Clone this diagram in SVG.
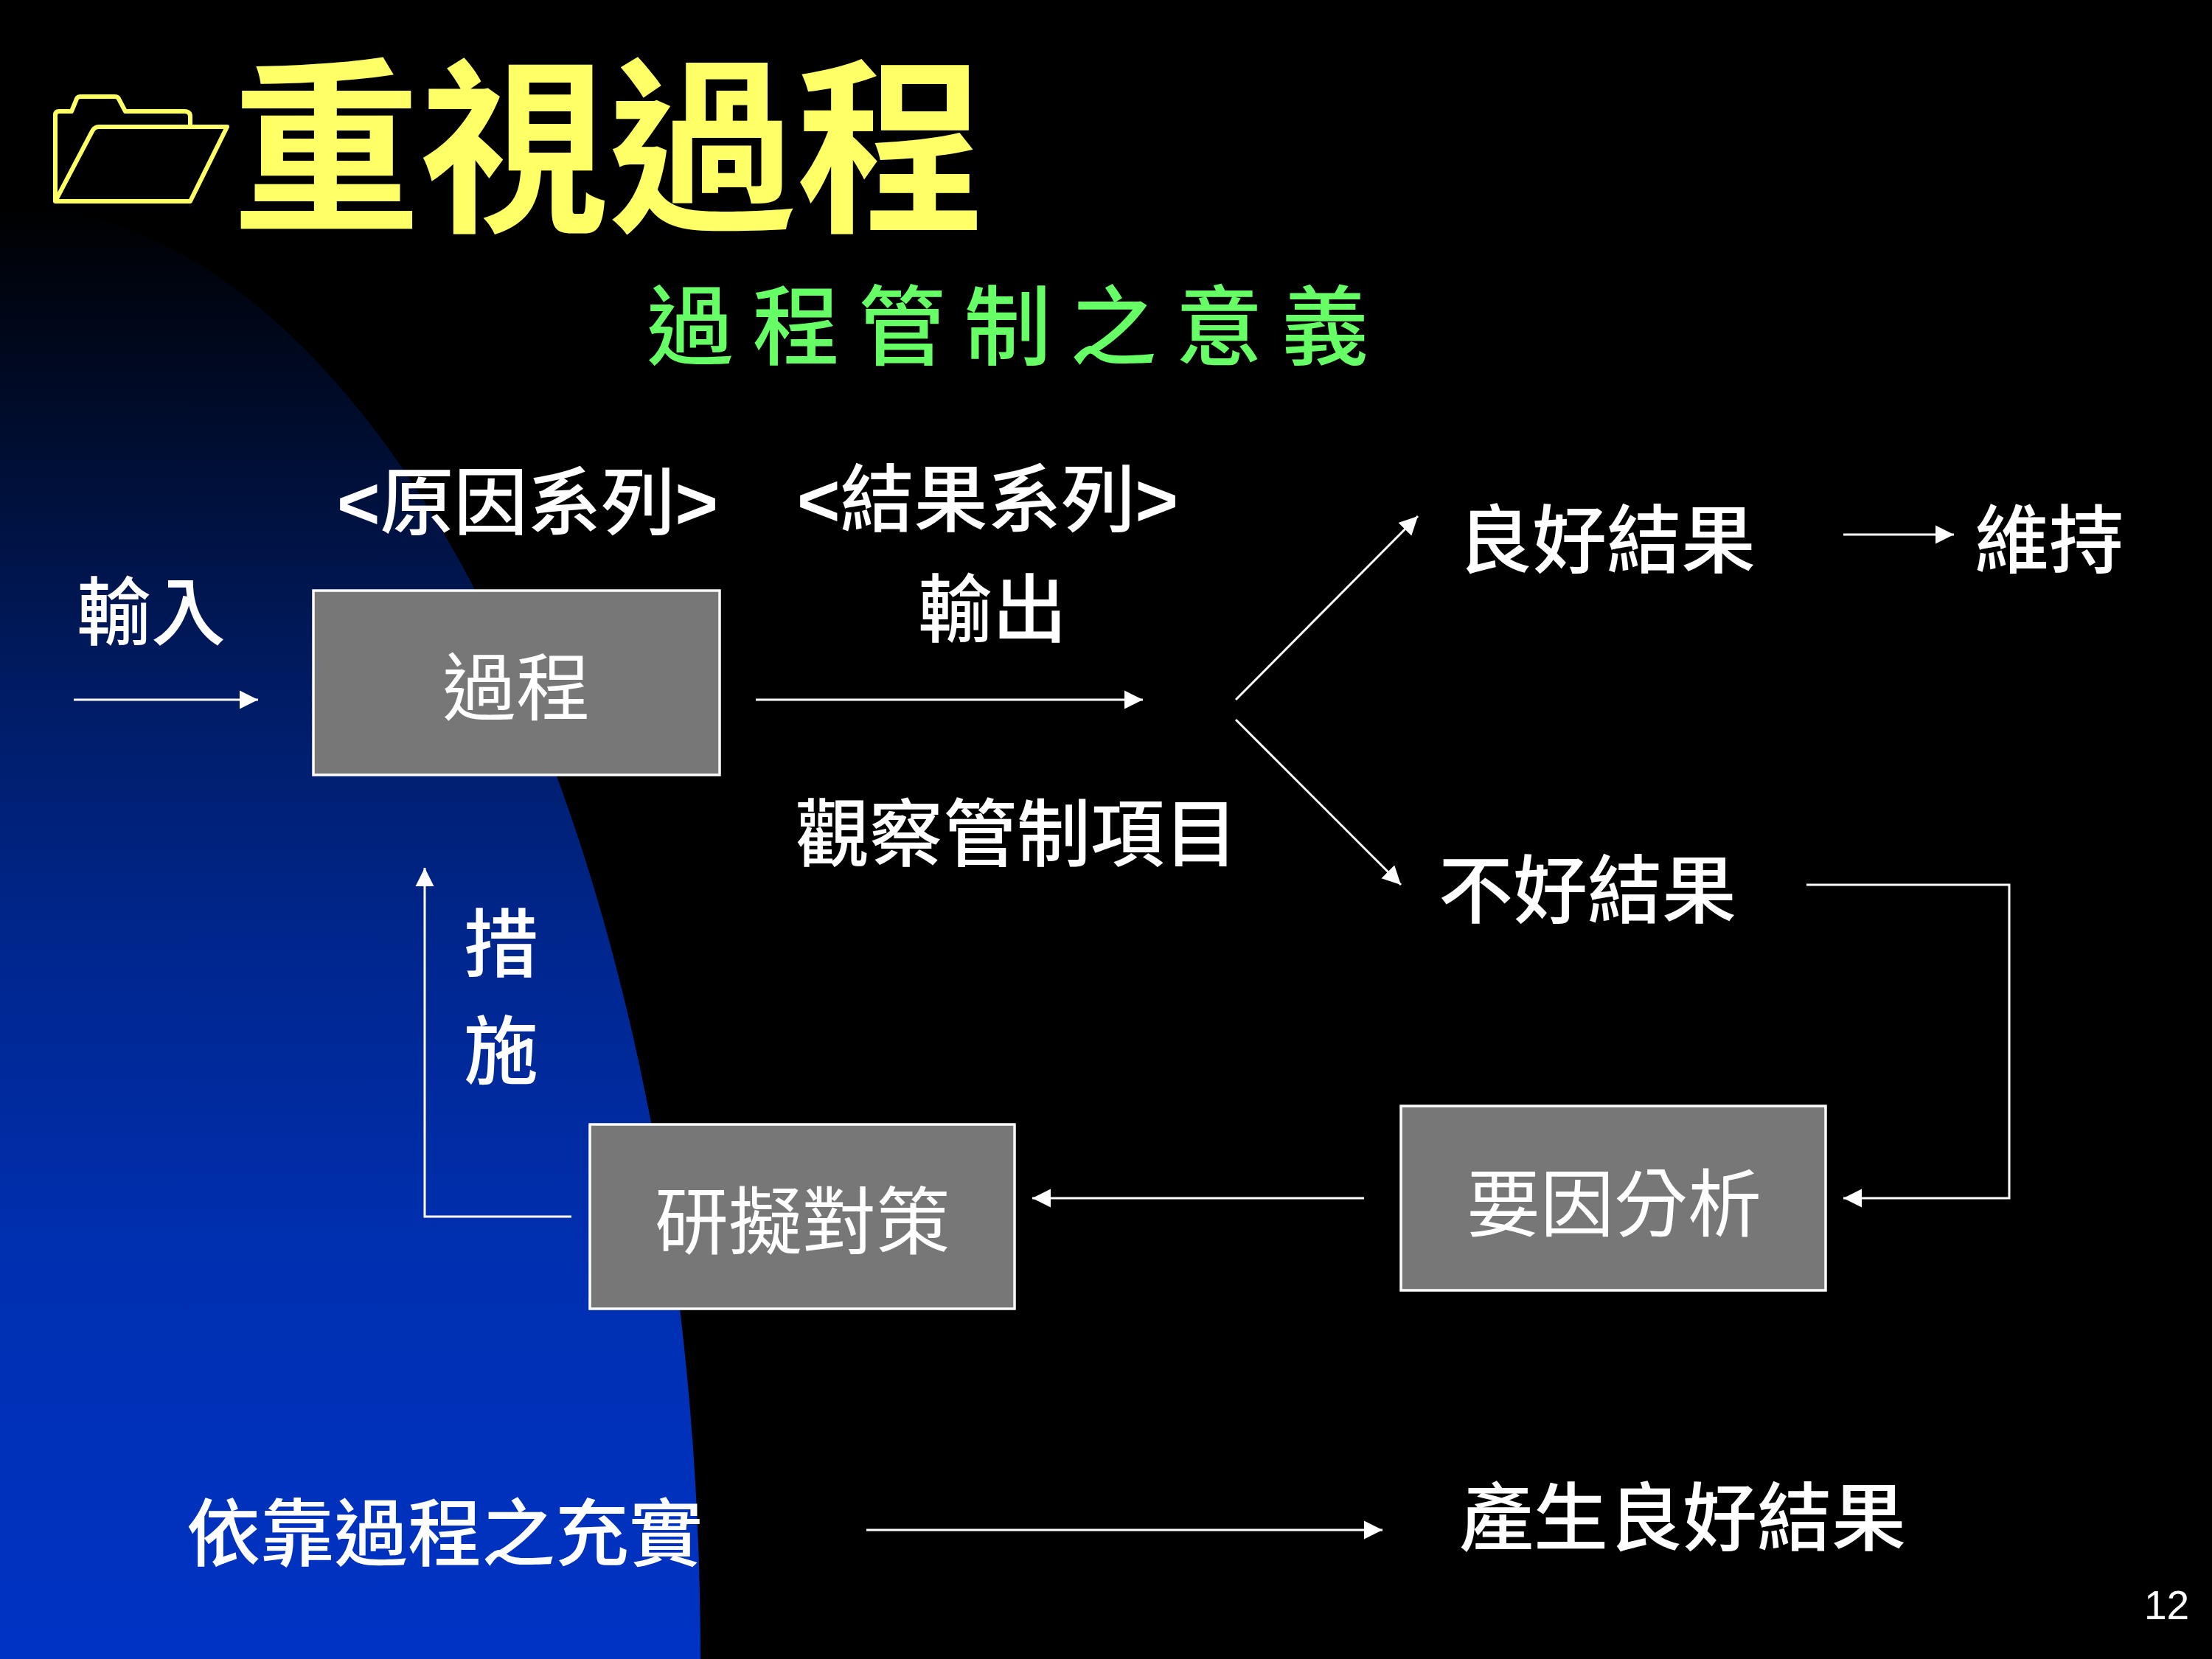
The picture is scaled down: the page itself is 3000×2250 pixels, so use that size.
<svg xmlns="http://www.w3.org/2000/svg" width="3000" height="2250" viewBox="0 0 3000 2250">
<style>
text{font-family:"Liberation Sans","Noto Sans CJK TC",sans-serif;fill:#fff}
.l{font-size:101px;font-weight:500}
.s{font-size:100px}
.b{font-size:100px;font-weight:400;text-anchor:middle}
.m{font-weight:700}
.box{fill:#777;stroke:#fff;stroke-width:3.5}
.c{fill:none;stroke:#fff;stroke-width:3}
</style>
<defs>
<linearGradient id="bg" gradientUnits="userSpaceOnUse" x1="0" y1="277" x2="0" y2="2250">
<stop offset="0" stop-color="#000"/><stop offset="0.34" stop-color="#001c66"/><stop offset="0.5" stop-color="#00268c"/><stop offset="0.72" stop-color="#002fb0"/><stop offset="1" stop-color="#0033c4"/>
</linearGradient>
<marker id="a" markerUnits="userSpaceOnUse" markerWidth="26" markerHeight="26" refX="25" refY="13" orient="auto"><path d="M0 0.5L25 13L0 25.5Z" fill="#fff"/></marker>
</defs>
<rect width="3000" height="2250" fill="#000"/>
<path d="M0 277A950 1973 0 0 1 950 2250L0 2250Z" fill="url(#bg)"/>
<g id="folder" fill="none" stroke="#ffff66" stroke-width="6" stroke-linejoin="round">
<path d="M75 273L75 156Q75 151 80 151L97 151L104 134Q105 131 110 131L155 131Q160 131 161 134L170 151L250 151Q258 151 258 158L258 172"/>
<path d="M75 273L125 178Q128 172 134 172L308 172L258 273Z"/>
</g>
<text id="title" x="315" y="294" style="font-size:255px;font-weight:700;fill:#ffff66">重視過程</text>
<text id="subtitle" x="877" y="486" style="font-size:118px;font-weight:500;letter-spacing:25.5px;fill:#66ff66">過程管制之意義</text>
<g id="connectors" class="c">
<path class="c" marker-end="url(#a)" d="M100 949H350"/>
<path class="c" marker-end="url(#a)" d="M1025 949H1550"/>
<path class="c" marker-end="url(#a)" d="M1676 949L1923 700"/>
<path class="c" marker-end="url(#a)" d="M1676 976L1900 1200"/>
<path class="c" marker-end="url(#a)" d="M2500 725H2650"/>
<path class="c" marker-end="url(#a)" d="M2450 1200H2725V1625H2500"/>
<path class="c" marker-end="url(#a)" d="M1850 1625H1400"/>
<path class="c" marker-end="url(#a)" d="M775 1650H576V1177"/>
<path class="c" marker-end="url(#a)" d="M1175 2075H1875"/>
</g>
<g id="n-process"><rect class="box" x="425" y="801" width="551" height="250"/><text class="b" x="700" y="969">過程</text></g>
<g id="n-plan"><rect class="box" x="800" y="1525" width="576" height="250"/><text class="b" x="1088" y="1693">研擬對策</text></g>
<g id="n-analysis"><rect class="box" x="1900" y="1500" width="576" height="250"/><text class="b" x="2189" y="1669">要因分析</text></g>
<g id="labels">
<text class="l s" x="457" y="717"><tspan class="m">&lt;</tspan>原因系列<tspan class="m">&gt;</tspan></text>
<text class="l s" x="1081" y="713"><tspan class="m">&lt;</tspan>結果系列<tspan class="m">&gt;</tspan></text>
<text class="l" x="104" y="867">輸入</text>
<text class="l" x="1245" y="863">輸出</text>
<text class="l" x="1977" y="769">良好結果</text>
<text class="l" x="2678" y="769">維持</text>
<text class="l s" x="1079" y="1167">觀察管制項目</text>
<text class="l" x="1951" y="1244">不好結果</text>
<text class="l" x="629" y="1317">措</text>
<text class="l" x="629" y="1462">施</text>
<text class="l s" x="253" y="2116">依靠過程之充實</text>
<text class="l" x="1979" y="2095">產生良好結果</text>
</g>
<text id="page" x="2908" y="2196" style="font-size:55px">12</text>
</svg>
